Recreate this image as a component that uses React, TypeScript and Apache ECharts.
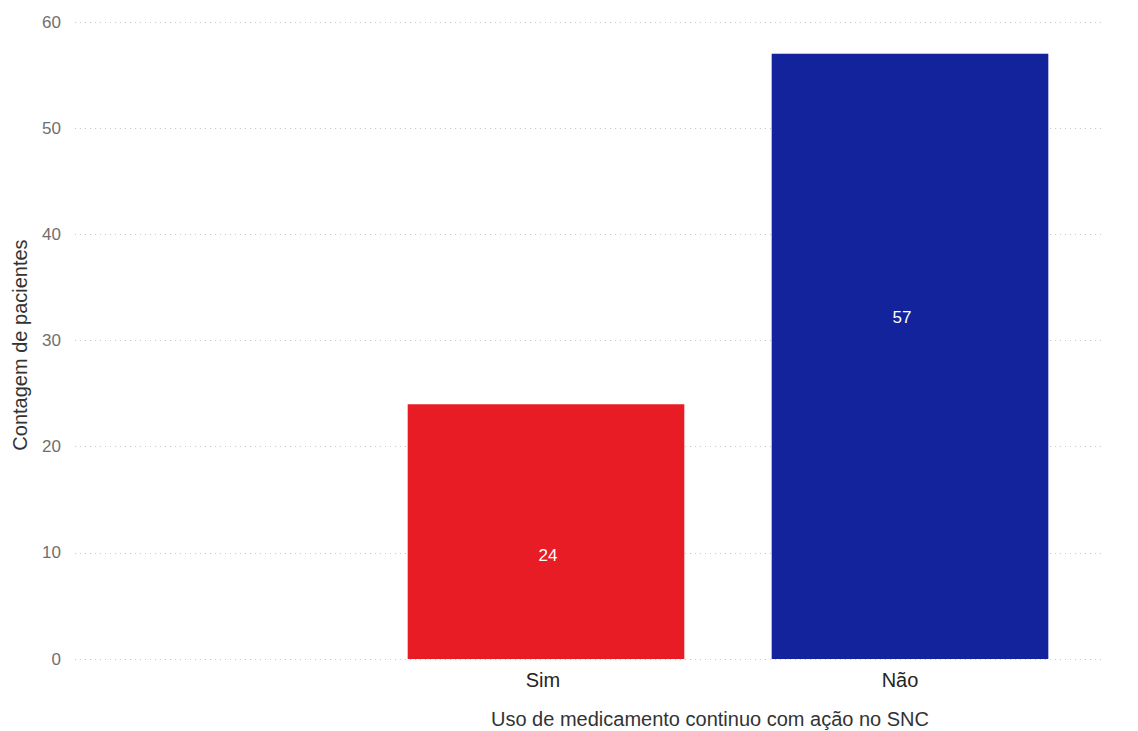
import React, { useEffect, useRef } from "react";
import * as echarts from "echarts";

const categories = ["Sim", "Não"];
const values = [24, 57];
const barColors = ["#E81C24", "#13239B"];
const labelOffsets = [[2, 24], [-8, -39]];
const yTicks = [0, 10, 20, 30, 40, 50, 60];
const yTitle = "Contagem de pacientes";
const xTitle = "Uso de medicamento continuo com ação no SNC";

const FONT = "'Liberation Sans', Arial, sans-serif";

export default function App() {
  const ref = useRef<HTMLDivElement>(null);
  useEffect(() => {
    document.body.style.margin = "0";
    const chart = echarts.init(ref.current!, null, { renderer: "svg" });
    const top = 22;
    const bottom = 72;
    chart.setOption({
      animation: false,
      backgroundColor: "#ffffff",
      grid: [
        { left: 75, right: 33, top, bottom },
        { left: 364, right: 1138 - 1092, top, bottom },
      ],
      xAxis: [
        { gridIndex: 0, type: "value", show: false, min: 0, max: 1 },
        {
          gridIndex: 1,
          type: "category",
          data: categories,
          axisLine: { show: false },
          axisTick: { show: false },
          axisLabel: {
            color: "#252423",
            fontSize: 20,
            fontFamily: FONT,
            margin: 11,
            formatter: (v: string) => (v === "Não" ? `{n|${v}}` : `{s|${v}}`),
            rich: {
              s: { fontSize: 20, fontFamily: FONT, color: "#252423", padding: [0, 6, 0, 0] },
              n: { fontSize: 20, fontFamily: FONT, color: "#252423", padding: [0, 20, 0, 0] },
            },
          },
        },
      ],
      yAxis: [
        {
          gridIndex: 0,
          type: "value",
          min: yTicks[0],
          max: yTicks[yTicks.length - 1],
          interval: 10,
          axisLine: { show: false },
          axisTick: { show: false },
          axisLabel: { color: "#6f6f6f", fontSize: 17, fontFamily: FONT, margin: 14 },
          splitLine: { lineStyle: { color: "#c8c8c8", type: [1, 4], width: 1 } },
        },
        {
          gridIndex: 1,
          type: "value",
          min: yTicks[0],
          max: yTicks[yTicks.length - 1],
          interval: 10,
          show: false,
          splitLine: { show: false },
        },
      ],
      series: [
        {
          type: "bar",
          xAxisIndex: 1,
          yAxisIndex: 1,
          barCategoryGap: "24%",
          data: values.map((v, i) => ({
            value: v,
            itemStyle: { color: barColors[i] },
            label: { offset: labelOffsets[i] },
          })),
          label: {
            show: true,
            position: "inside",
            color: "#ffffff",
            fontSize: 17,
            fontFamily: FONT,
          },
        },
      ],
      graphic: [
        {
          type: "text",
          x: 20,
          y: 345,
          rotation: Math.PI / 2,
          style: {
            text: yTitle,
            fill: "#333333",
            font: `20px ${FONT}`,
            align: "center",
            verticalAlign: "middle",
          },
        },
        {
          type: "text",
          x: 710,
          y: 719,
          style: {
            text: xTitle,
            fill: "#333333",
            font: `20px ${FONT}`,
            align: "center",
            verticalAlign: "middle",
          },
        },
      ],
    });
    return () => chart.dispose();
  }, []);
  return <div ref={ref} style={{ width: 1138, height: 731 }} />;
}
